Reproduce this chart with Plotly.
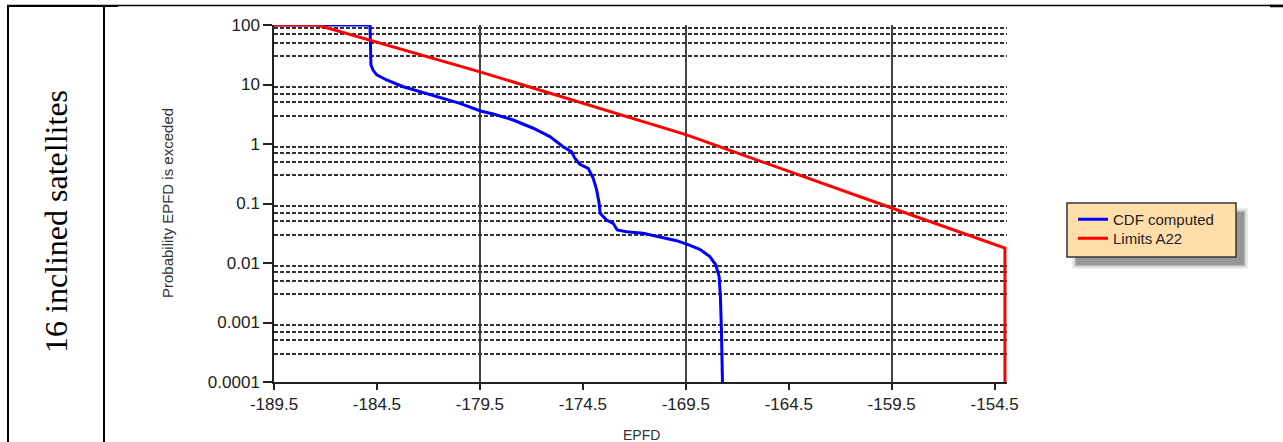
import plotly.graph_objects as go

# Computed EPFD distribution: EPFD (dB(W/m2)) vs. percentage of time exceeded
cdf_epfd = [-189.5, -184.84, -184.79, -184.69, -184.51, -184.03, -183.22, -182.09,
            -180.47, -179.47, -178.85, -177.88, -176.91, -176.10, -175.46, -175.05,
            -174.89, -174.65, -174.24, -174.00, -173.83, -173.71, -173.66, -173.35,
            -173.03, -172.83, -172.38, -171.57, -170.76, -169.95, -169.42, -168.82,
            -168.33, -168.04, -167.88, -167.82, -167.77, -167.72]
cdf_percent = [100, 100, 21.3, 17.5, 14.5, 11.9, 9.18, 7.11,
               4.83, 3.59, 3.19, 2.53, 1.84, 1.33, 0.90, 0.743,
               0.575, 0.456, 0.391, 0.268, 0.169, 0.101, 0.0684, 0.0528,
               0.0465, 0.0359, 0.0336, 0.0316, 0.0277, 0.0237, 0.0206, 0.0170,
               0.0128, 0.00925, 0.00589, 0.00272, 0.000748, 0.0001]

# Article 22 limit mask
limit_epfd = [-189.5, -187.4, -179.5, -169.5, -159.5, -154.0, -154.0]
limit_percent = [100, 100, 16.3, 1.44, 0.084, 0.0178, 0.0001]

series_names = ["CDF computed", "Limits A22"]
series_colors = ["#0000FF", "#FF0000"]

x_tick_vals = [-189.5, -184.5, -179.5, -174.5, -169.5, -164.5, -159.5, -154.5]
x_tick_text = ["-189.5", "-184.5", "-179.5", "-174.5", "-169.5", "-164.5", "-159.5", "-154.5"]
x_grid_vals = [-179.5, -169.5, -159.5]
y_tick_vals = [0.0001, 0.001, 0.01, 0.1, 1, 10, 100]
y_tick_text = ["0.0001", "0.001", "0.01", "0.1", "1", "10", "100"]
grid_mantissas = [0.3, 0.5, 0.7, 0.9]

row_label = "16 inclined satellites"
x_title = "EPFD"
y_title = "Probability EPFD is exceded"

# Canvas and plot-area geometry (pixels)
W, H = 1283, 442
L, R, T, B = 274, 276, 25, 60
PW, PH = W - L - R, H - T - B


def px(x):
    return (x - L) / PW


def py(y):
    return (H - B - y) / PH


# dashed grid values inside each decade (just below every labelled decade)
y_minor = [m * d for d in y_tick_vals[1:] for m in grid_mantissas]

sans = "Liberation Sans, Arial, sans-serif"

fig = go.Figure()
fig.add_trace(go.Scatter(x=cdf_epfd, y=cdf_percent, mode="lines", name=series_names[0],
                         line=dict(color=series_colors[0], width=3), legend="legend"))
fig.add_trace(go.Scatter(x=limit_epfd, y=limit_percent, mode="lines", name=series_names[1],
                         line=dict(color=series_colors[1], width=3), legend="legend2"))

axis_color = "#222222"
tick_font = dict(family=sans, size=17, color="#222222")
grid_color = "#333333"

fig.update_xaxes(range=[-189.5, -153.9], tickmode="array", tickvals=x_tick_vals,
                 ticktext=x_tick_text, ticks="outside", ticklen=6, tickwidth=1.5,
                 tickcolor=axis_color, showline=True, linecolor=axis_color, linewidth=1.5,
                 showgrid=False, zeroline=False, tickfont=tick_font,
                 minor=dict(tickmode="array", tickvals=x_grid_vals, showgrid=True,
                            gridcolor="#444444", gridwidth=1.5, ticks=""))
fig.update_yaxes(type="log", range=[-4, 2], tickmode="array", tickvals=y_tick_vals,
                 ticktext=y_tick_text, ticks="outside", ticklen=9, tickwidth=1.5,
                 tickcolor=axis_color, showline=True, linecolor=axis_color, linewidth=1.5,
                 showgrid=False, zeroline=False, tickfont=tick_font,
                 minor=dict(tickmode="array", tickvals=y_minor, showgrid=True,
                            gridcolor=grid_color, gridwidth=1.6, griddash="4px,2px", ticks=""))

shapes = []
# table borders
shapes.append(dict(type="line", xref="paper", yref="paper", x0=px(7), x1=px(W), y0=py(5.5), y1=py(5.5),
                   line=dict(color="black", width=1.5)))
shapes.append(dict(type="line", xref="paper", yref="paper", x0=px(7), x1=px(118), y0=py(6), y1=py(6),
                   line=dict(color="black", width=2)))
shapes.append(dict(type="line", xref="paper", yref="paper", x0=px(1270), x1=px(W), y0=py(6), y1=py(6),
                   line=dict(color="black", width=2.5)))
shapes.append(dict(type="line", xref="paper", yref="paper", x0=px(8), x1=px(8), y0=py(5), y1=py(H),
                   line=dict(color="black", width=2)))
shapes.append(dict(type="line", xref="paper", yref="paper", x0=px(104), x1=px(104), y0=py(5), y1=py(H),
                   line=dict(color="black", width=2)))

# legend frame with soft drop shadow
lx0, ly0, lx1, ly1 = 1067, 203, 1236, 257
for grow, alpha in [(4, 0.10), (2.5, 0.15), (1, 0.25), (0, 0.35)]:
    shapes.append(dict(type="rect", xref="paper", yref="paper",
                       x0=px(lx0 + 9 - grow), x1=px(lx1 + 8 + grow),
                       y0=py(ly0 + 9 - grow), y1=py(ly1 + 8 + grow),
                       line=dict(width=0), fillcolor=f"rgba(90,90,90,{alpha})"))
shapes.append(dict(type="rect", xref="paper", yref="paper", x0=px(lx0), x1=px(lx1),
                   y0=py(ly0), y1=py(ly1), line=dict(color="#333333", width=1.5),
                   fillcolor="#FFDEAA"))

annotations = [
    dict(text=row_label, xref="paper", yref="paper", x=px(56), y=py(222), textangle=-90,
         showarrow=False, xanchor="center", yanchor="middle",
         font=dict(family="Liberation Serif, Times New Roman, serif", size=32, color="black")),
    dict(text=y_title, xref="paper", yref="paper", x=px(167), y=py(203), textangle=-90,
         showarrow=False, xanchor="center", yanchor="middle",
         font=dict(family=sans, size=15, color="#333333")),
    dict(text=x_title, xref="paper", yref="paper", x=px(641), y=py(435), showarrow=False,
         xanchor="center", yanchor="middle",
         font=dict(family=sans, size=14, color="#333333")),
]

legend_style = dict(xref="container", yref="container", xanchor="left", yanchor="top",
                    bgcolor="rgba(0,0,0,0)", borderwidth=0, itemwidth=30,
                    font=dict(family=sans, size=15, color="#222222"))

fig.update_layout(
    width=W, height=H,
    margin=dict(l=L, r=R, t=T, b=B, autoexpand=False),
    paper_bgcolor="white", plot_bgcolor="white",
    shapes=shapes, annotations=annotations,
    showlegend=True,
    legend=dict(x=(lx0 + 6) / W, y=1 - 203 / H, **legend_style),
    legend2=dict(x=(lx0 + 6) / W, y=1 - 222 / H, **legend_style),
)

fig.write_html("out.html")
